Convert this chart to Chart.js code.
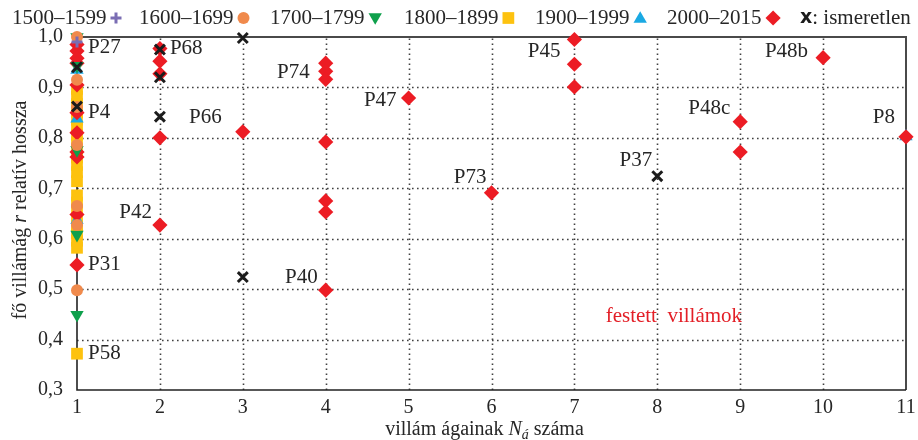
<!DOCTYPE html>
<html>
<head>
<meta charset="utf-8">
<script src="https://cdn.jsdelivr.net/npm/chart.js@4.4.0/dist/chart.umd.min.js"></script>
<style>
html,body{margin:0;padding:0;background:#fff;}
#wrap{width:918px;height:440px;position:relative;}
</style>
</head>
<body>
<div id="wrap"><canvas id="c" width="918" height="440"></canvas></div>
<script>
// ---------------- data ----------------
const seriesNames = ['1500–1599', '1600–1699', '1700–1799', '1800–1899', '1900–1999', '2000–2015'];
const unknownName = ': ismeretlen';

const pts1500 = [[1, 0.99]];
const pts1600 = [[1, 1.0], [1, 0.915], [1, 0.861], [1, 0.786], [1, 0.665], [1, 0.627], [1, 0.498]];
const pts1700 = [[1, 1.0], [1, 0.943], [1, 0.776], [1, 0.608], [1, 0.449]];
const pts1800 = [[1, 0.897], [1, 0.882], [1, 0.867], [1, 0.851], [1, 0.836], [1, 0.822], [1, 0.806],
                 [1, 0.791], [1, 0.776], [1, 0.761], [1, 0.746], [1, 0.732], [1, 0.714], [1, 0.686],
                 [1, 0.672], [1, 0.657], [1, 0.641], [1, 0.626], [1, 0.611], [1, 0.596], [1, 0.582],
                 [1, 0.372]];
const pts1900 = [[1, 0.935], [1, 0.838], [1, 0.637], [11, 0.803]];
const pts2000 = [[1, 0.985], [1, 0.972], [1, 0.958], [1, 0.948], [1, 0.905], [1, 0.85], [1, 0.81],
                 [1, 0.772], [1, 0.762], [1, 0.648], [1, 0.548],
                 [2, 0.977], [2, 0.952], [2, 0.927], [2, 0.80], [2, 0.627],
                 [3, 0.812],
                 [4, 0.948], [4, 0.932], [4, 0.916], [4, 0.792], [4, 0.675], [4, 0.653], [4, 0.498],
                 [5, 0.879], [6, 0.691], [7, 0.995], [7, 0.946], [7, 0.901],
                 [9, 0.832], [9, 0.772], [10, 0.959], [11, 0.802]];
const ptsUnknown = [[1, 0.94], [1, 0.862], [2, 0.975], [2, 0.92], [2, 0.842], [3, 0.998], [3, 0.524], [8, 0.724]];

const xTickValues = [1, 2, 3, 4, 5, 6, 7, 8, 9, 10, 11];
const yTickValues = [0.3, 0.4, 0.5, 0.6, 0.7, 0.8, 0.9, 1.0];

// point labels: text, anchored data point
const pointLabelText = ['P27', 'P4', 'P31', 'P58', 'P68', 'P42', 'P66', 'P74', 'P47', 'P40', 'P73', 'P45', 'P37', 'P48c', 'P48b', 'P8'];
const pointLabelAt   = [[1, 0.98], [1, 0.85], [1, 0.548], [1, 0.372], [2, 0.977], [2, 0.627], [3, 0.812], [4, 0.932],
                        [5, 0.879], [4, 0.498], [6, 0.691], [7, 0.995], [8, 0.724], [9, 0.832], [10, 0.959], [11, 0.802]];
const noteText = 'festett  villámok';
const noteAt = [8.2, 0.446];

// ---------------- layout / style (not data) ----------------
const labelOffsets = [[11, 0, 'left'], [11, 0, 'left'], [11, 0, 'left'], [11, 0, 'left'], [10, 0, 'left'],
                      [-8, -13, 'right'], [-21, -14, 'right'], [-16, 1, 'right'], [-12, 2, 'right'], [-8, -13, 'right'],
                      [-5, -15, 'right'], [-14, 12, 'right'], [-5, -16, 'right'], [-10, -13, 'right'], [-15, -6, 'right'],
                      [-11, -19, 'right']];
const SERIF = '"Liberation Serif", "DejaVu Serif", serif';
const COLORS = {p1500: '#7a6db3', p1600: '#f08a4c', p1700: '#0fa04c', p1800: '#fdc20f', p1900: '#1aa9e3', p2000: '#ec1c24', unk: '#1c1c1c'};
const GRID = '#404040';

const toXY = arr => arr.map(p => ({x: p[0], y: p[1]}));

const styles = [
  {data: pts1500, color: COLORS.p1500, style: 'cross', r: 5.5, rot: 0, stroke: true, order: 1},
  {data: pts1600, color: COLORS.p1600, style: 'circle', r: 6, rot: 0, stroke: false, order: 2},
  {data: pts1700, color: COLORS.p1700, style: 'triangle', r: 7.7, rot: 180, stroke: false, order: 3},
  {data: pts1800, color: COLORS.p1800, style: 'rect', r: 8.3, rot: 0, stroke: false, order: 6},
  {data: pts1900, color: COLORS.p1900, style: 'triangle', r: 7.7, rot: 0, stroke: false, order: 5},
  {data: pts2000, color: COLORS.p2000, style: 'rectRot', r: 7.6, rot: 0, stroke: false, order: 4}
];

const datasets = styles.map((s, i) => ({
  label: seriesNames[i],
  data: toXY(s.data),
  pointStyle: s.style,
  pointRadius: s.r,
  pointHoverRadius: s.r,
  pointRotation: s.rot,
  backgroundColor: s.color,
  borderColor: s.color,
  pointBackgroundColor: s.color,
  pointBorderColor: s.color,
  pointBorderWidth: s.stroke ? 3 : 0,
  showLine: false,
  clip: false,
  order: s.order
}));
datasets.push({
  label: 'x' + unknownName,
  data: toXY(ptsUnknown),
  pointStyle: 'crossRot',
  pointRadius: 7,
  pointHoverRadius: 7,
  pointBorderColor: COLORS.unk,
  pointBackgroundColor: COLORS.unk,
  pointBorderWidth: 3,
  showLine: false,
  clip: false,
  order: 0
});

function drawMarker(ctx, style, r, rot, color, stroke, x, y) {
  ctx.save();
  ctx.fillStyle = color;
  ctx.strokeStyle = color;
  ctx.lineWidth = stroke ? 3 : 0;
  Chart.helpers.drawPoint(ctx, {pointStyle: style, radius: r, rotation: rot, borderWidth: stroke ? 3 : 0}, x, y);
  ctx.restore();
}

// dotted grid drawn along the library's own scale ticks
function drawDottedGrid(chart) {
  const {ctx, chartArea: a} = chart;
  const xs = chart.scales.x, ys = chart.scales.y;
  ctx.save();
  ctx.strokeStyle = GRID;
  ctx.lineWidth = 1.6;
  ctx.setLineDash([1.6, 3.4]);
  xs.ticks.forEach((t, i) => {
    if (i === 0 || i === xs.ticks.length - 1) return;
    const px = Math.round(xs.getPixelForValue(t.value)) + 0.5;
    ctx.beginPath(); ctx.moveTo(px, a.bottom); ctx.lineTo(px, a.top); ctx.stroke();
  });
  ys.ticks.forEach((t, i) => {
    if (i === 0 || i === ys.ticks.length - 1) return;
    const py = Math.round(ys.getPixelForValue(t.value)) + 0.5;
    ctx.beginPath(); ctx.moveTo(a.left, py); ctx.lineTo(a.right, py); ctx.stroke();
  });
  ctx.restore();
}

const overlay = {
  id: 'overlay',
  beforeDatasetsDraw(chart) {
    const {ctx, chartArea: a} = chart;
    drawDottedGrid(chart);
    ctx.save();
    ctx.lineCap = 'butt';
    ctx.setLineDash([]);
    // top & right frame
    ctx.strokeStyle = '#4a4a4a';
    ctx.lineWidth = 2;
    ctx.beginPath();
    ctx.moveTo(a.left, a.top); ctx.lineTo(a.right, a.top); ctx.lineTo(a.right, a.bottom);
    ctx.stroke();
    // left & bottom axes
    ctx.strokeStyle = '#222';
    ctx.lineWidth = 1.6;
    ctx.beginPath();
    ctx.moveTo(a.left, a.top); ctx.lineTo(a.left, a.bottom); ctx.lineTo(a.right, a.bottom);
    ctx.stroke();
    ctx.restore();
  },
  afterDatasetsDraw(chart) {
    const {ctx, chartArea: a} = chart;
    const xs = chart.scales.x, ys = chart.scales.y;
    ctx.save();
    // point labels
    ctx.font = '21px ' + SERIF;
    ctx.fillStyle = '#262626';
    ctx.textBaseline = 'middle';
    pointLabelText.forEach((t, i) => {
      const px = xs.getPixelForValue(pointLabelAt[i][0]);
      const py = ys.getPixelForValue(pointLabelAt[i][1]);
      const o = labelOffsets[i];
      ctx.textAlign = o[2];
      ctx.fillText(t, px + o[0], py + o[1]);
    });
    // note
    ctx.font = '21px ' + SERIF;
    ctx.fillStyle = '#e31e26';
    ctx.textAlign = 'center';
    ctx.fillText(noteText, xs.getPixelForValue(noteAt[0]), ys.getPixelForValue(noteAt[1]));

    // legend
    const starts = [12, 139, 270, 404, 535, 667];
    const ly = 18;
    ctx.font = '21px ' + SERIF;
    ctx.fillStyle = '#262626';
    ctx.textAlign = 'left';
    styles.forEach((s, i) => {
      const w = ctx.measureText(seriesNames[i]).width;
      ctx.fillText(seriesNames[i], starts[i], ly);
      const mr = s.r;
      const half = s.style === 'rect' ? mr * Math.SQRT1_2 : (s.style === 'triangle' ? mr * 0.87 : mr);
      drawMarker(ctx, s.style, mr, s.rot, s.color, s.stroke, starts[i] + w + 4 + half, ly + (s.style === 'triangle' ? (s.rot ? -1 : 1) : 0));
    });
    // unknown
    ctx.font = 'bold 19px "DejaVu Sans", sans-serif';
    ctx.fillStyle = '#1c1c1c';
    ctx.fillText('x', 800, ly);
    const xw = ctx.measureText('x').width;
    ctx.font = '21px ' + SERIF;
    ctx.fillStyle = '#262626';
    ctx.fillText(unknownName, 800 + xw, ly);

    // axis titles
    const normal = '20px ' + SERIF, ital = 'italic 20px ' + SERIF, sub = 'italic 14px ' + SERIF;
    function drawSegs(segs, cx, cy) {
      let total = 0;
      segs.forEach(s => { ctx.font = s.f; s.w = ctx.measureText(s.t).width; total += s.w; });
      let x = cx - total / 2;
      ctx.textAlign = 'left';
      segs.forEach(s => { ctx.font = s.f; ctx.fillText(s.t, x, cy + (s.dy || 0)); x += s.w; });
    }
    ctx.fillStyle = '#262626';
    ctx.textBaseline = 'middle';
    drawSegs([{t: 'villám ágainak ', f: normal}, {t: 'N', f: ital}, {t: 'á', f: sub, dy: 5}, {t: ' száma', f: normal}],
             (a.left + a.right) / 2 - 7, 430);
    ctx.save();
    ctx.translate(21, 210);
    ctx.rotate(-Math.PI / 2);
    drawSegs([{t: 'fő villámág ', f: normal}, {t: 'r', f: ital}, {t: ' relatív hossza', f: normal}], 0, 0);
    ctx.restore();
    ctx.restore();
  }
};

new Chart(document.getElementById('c'), {
  type: 'scatter',
  data: {datasets},
  options: {
    responsive: false,
    animation: false,
    devicePixelRatio: 1,
    layout: {padding: {left: 0, right: 12, top: 37, bottom: 0}},
    plugins: {legend: {display: false}, tooltip: {enabled: false}},
    scales: {
      x: {
        type: 'linear', min: xTickValues[0], max: xTickValues[xTickValues.length - 1],
        afterBuildTicks: s => { s.ticks = xTickValues.map(v => ({value: v})); },
        ticks: {font: {family: SERIF, size: 20}, color: '#262626', padding: 6, maxRotation: 0,
                callback: v => String(v)},
        grid: {display: false, drawTicks: false},
        border: {display: false},
        afterFit: s => { s.height = 50; s.paddingLeft = 0; s.paddingRight = 0; }
      },
      y: {
        type: 'linear', min: yTickValues[0], max: yTickValues[yTickValues.length - 1],
        afterBuildTicks: s => { s.ticks = yTickValues.map(v => ({value: v})); },
        ticks: {font: {family: SERIF, size: 20}, color: '#262626', padding: 14,
                callback: v => Number(v).toFixed(1).replace('.', ',')},
        grid: {display: false, drawTicks: false},
        border: {display: false},
        afterFit: s => { s.width = 77; s.paddingTop = 0; s.paddingBottom = 0; }
      }
    }
  },
  plugins: [overlay]
});
</script>
</body>
</html>
